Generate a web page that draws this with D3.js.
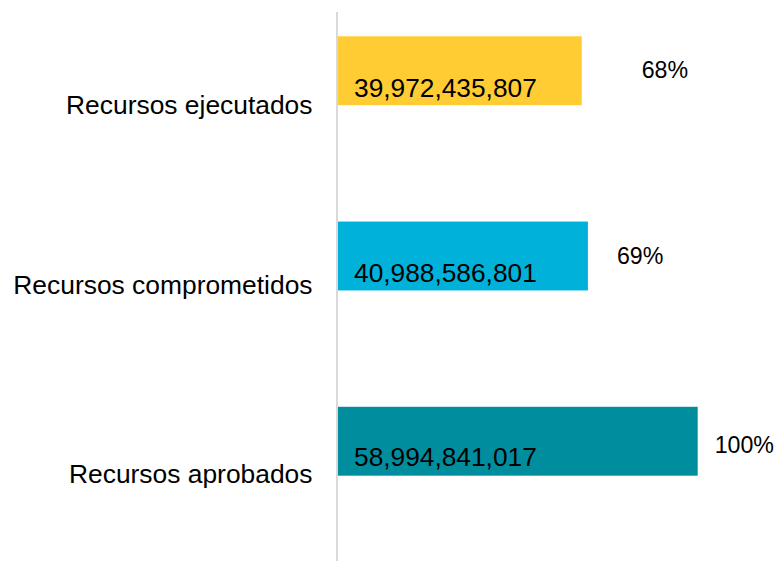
<!DOCTYPE html>
<html>
<head>
<meta charset="utf-8">
<script src="https://cdn.jsdelivr.net/npm/d3@7"></script>
<style>
  html, body { margin: 0; padding: 0; background: #fff; }
  svg { display: block; font-family: "Liberation Sans", Arial, sans-serif; }
</style>
</head>
<body>
<svg id="chart" width="779" height="561"></svg>
<script>
// Data
const categories = ["Recursos ejecutados", "Recursos comprometidos", "Recursos aprobados"];
const values = [39972435807, 40988586801, 58994841017];
const percentLabels = ["68%", "69%", "100%"];
const colors = ["#FFCC33", "#00B2DA", "#008E9F"];

// Layout (not data)
const pctOffsetX = [60, 29, 17];
const pctOffsetY = [7, 8, 12];
const catOffsetY = [43, 38, 42];
const valOffsetY = [26, 26, 25];

const svg = d3.select("#chart");
const x0 = 338;

const x = d3.scaleLinear().domain([0, values[2]]).range([x0, 697.7]);
const y = d3.scaleBand().domain(categories).range([36.3, 475.7]).paddingInner(0.628).paddingOuter(0);

const data = categories.map((c, i) => ({ c, v: values[i], p: percentLabels[i], col: colors[i], i }));

// bars
svg.selectAll("rect.bar").data(data).enter().append("rect")
  .attr("class", "bar")
  .attr("x", x(0))
  .attr("y", d => y(d.c))
  .attr("width", d => x(d.v) - x(0))
  .attr("height", y.bandwidth())
  .attr("fill", d => d.col);

// axis line
svg.append("line")
  .attr("x1", 337).attr("x2", 337)
  .attr("y1", 12).attr("y2", 561)
  .attr("stroke", "#D9D9D9").attr("stroke-width", 2);

const fmt = d3.format(",");

// value labels
svg.selectAll("text.val").data(data).enter().append("text")
  .attr("class", "val")
  .attr("x", x(0) + 16)
  .attr("y", d => y(d.c) + y.bandwidth() / 2 + valOffsetY[d.i])
  .attr("font-size", 26.3)
  .attr("fill", "#000")
  .text(d => fmt(d.v));

// percentage labels
svg.selectAll("text.pct").data(data).enter().append("text")
  .attr("class", "pct")
  .attr("x", d => x(d.v) + pctOffsetX[d.i])
  .attr("y", d => y(d.c) + y.bandwidth() / 2 + pctOffsetY[d.i])
  .attr("font-size", 23.2)
  .attr("fill", "#000")
  .text(d => d.p);

// category labels
svg.selectAll("text.cat").data(data).enter().append("text")
  .attr("class", "cat")
  .attr("x", 312.5)
  .attr("y", d => y(d.c) + y.bandwidth() / 2 + catOffsetY[d.i])
  .attr("text-anchor", "end")
  .attr("font-size", 26.4)
  .attr("fill", "#000")
  .text(d => d.c);
</script>
</body>
</html>
